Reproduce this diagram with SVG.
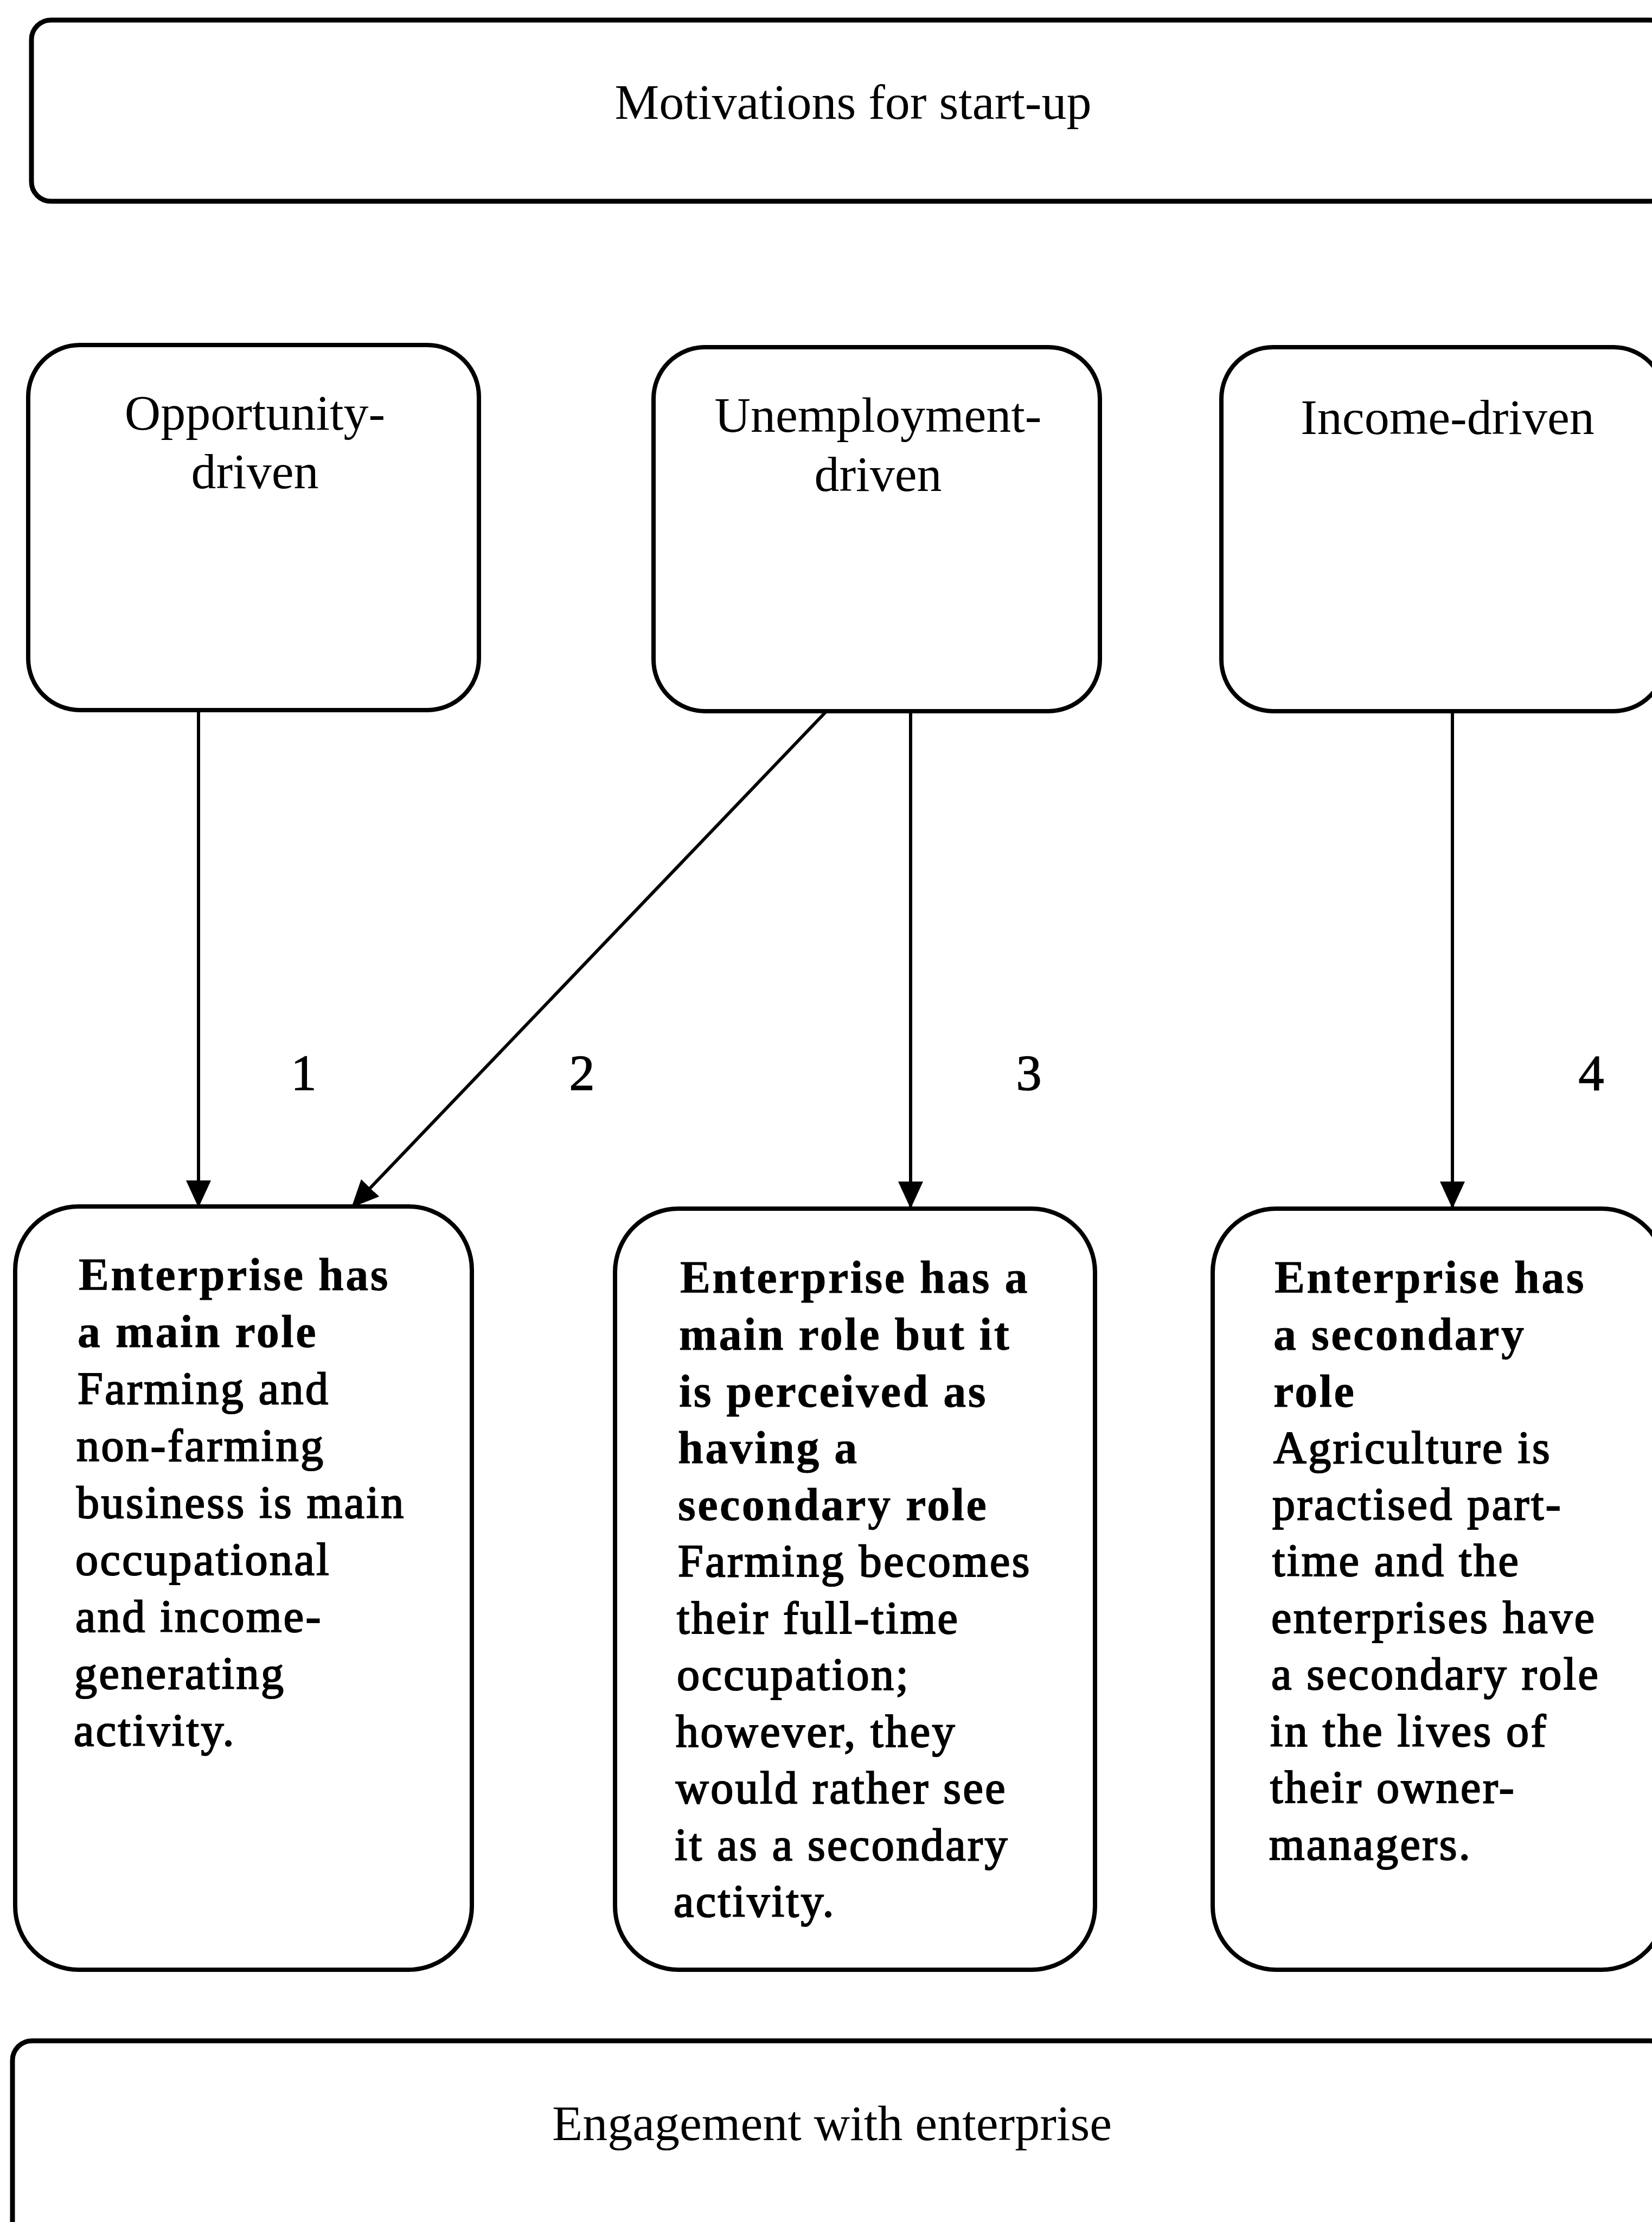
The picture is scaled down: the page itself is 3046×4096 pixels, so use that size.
<svg xmlns="http://www.w3.org/2000/svg" width="3046" height="4096" viewBox="0 0 3046 4096">
  <style>
    .box { fill: #ffffff; stroke: #000000; stroke-width: 8; }
    .label { font-family: "Liberation Serif", "Times New Roman", serif; font-size: 92px; fill: #000000; text-anchor: middle; }
    .num { font-family: "Liberation Serif", "Times New Roman", serif; font-size: 94px; fill: #000000; stroke: #000000; stroke-width: 1.5; text-anchor: middle; }
    .body { font-family: "Liberation Serif", "Times New Roman", serif; font-size: 84px; letter-spacing: 3.5px; fill: #000000; stroke: #000000; stroke-width: 2.2; }
    .head { font-weight: bold; stroke-width: 0.8; }
    .conn { stroke: #000000; stroke-width: 6; fill: none; marker-end: url(#arrow); }
  </style>
  <defs>
    <marker id="arrow" markerUnits="userSpaceOnUse" viewBox="0 0 50 46" refX="50" refY="23" markerWidth="50" markerHeight="46" orient="auto">
      <path d="M0,0 L50,23 L0,46 z" fill="#000000"/>
    </marker>
  </defs>
  <rect width="3046" height="4096" fill="#ffffff"/>

  <!-- header -->
  <g id="motivations">
    <rect class="box" x="58" y="37" width="3020" height="334" rx="36" ry="36" style="stroke-width:9"/>
    <text class="label" x="1573" y="219">Motivations for start-up</text>
  </g>

  <!-- start-up motivations -->
  <g id="opportunity">
    <rect class="box" x="52" y="636" width="831" height="673" rx="95" ry="95"/>
    <text class="label" x="470" y="792">Opportunity-</text>
    <text class="label" x="470" y="900">driven</text>
  </g>
  <g id="unemployment">
    <rect class="box" x="1205" y="640" width="823" height="671" rx="95" ry="95"/>
    <text class="label" x="1619" y="796">Unemployment-</text>
    <text class="label" x="1619" y="905">driven</text>
  </g>
  <g id="income">
    <rect class="box" x="2252" y="640" width="818" height="671" rx="95" ry="95"/>
    <text class="label" x="2669" y="800">Income-driven</text>
  </g>

  <!-- arrows and their numbers -->
  <g id="connectors">
    <line class="conn" x1="366" y1="1311" x2="366" y2="2226"/>
    <line class="conn" x1="1522" y1="1313" x2="648" y2="2226"/>
    <line class="conn" x1="1679" y1="1313" x2="1679" y2="2228"/>
    <line class="conn" x1="2678" y1="1313" x2="2678" y2="2228"/>
    <text class="num" x="560" y="2009">1</text>
    <text class="num" x="1073" y="2009">2</text>
    <text class="num" x="1897" y="2009">3</text>
    <text class="num" x="2934" y="2009">4</text>
  </g>

  <!-- roles of the enterprise -->
  <g id="main-role">
    <rect class="box" x="28" y="2224" width="842" height="1407" rx="117" ry="117"/>
    <text class="body" x="143" y="2378">
      <tspan class="head" x="145" dy="0">Enterprise has</tspan>
      <tspan class="head" x="143" dy="105">a main role</tspan>
      <tspan x="143" dy="105">Farming and</tspan>
      <tspan x="141" dy="105">non-farming</tspan>
      <tspan x="141" dy="105">business is main</tspan>
      <tspan x="139" dy="105">occupational</tspan>
      <tspan x="139" dy="105">and income-</tspan>
      <tspan x="137" dy="105">generating</tspan>
      <tspan x="136" dy="105">activity.</tspan>
    </text>
  </g>
  <g id="perceived-secondary">
    <rect class="box" x="1134" y="2228" width="885" height="1403" rx="117" ry="117"/>
    <text class="body" x="1254" y="2383">
      <tspan class="head" x="1254" dy="0">Enterprise has a</tspan>
      <tspan class="head" x="1252" dy="105">main role but it</tspan>
      <tspan class="head" x="1252" dy="105">is perceived as</tspan>
      <tspan class="head" x="1250" dy="104">having a</tspan>
      <tspan class="head" x="1250" dy="105">secondary role</tspan>
      <tspan x="1250" dy="104">Farming becomes</tspan>
      <tspan x="1248" dy="105">their full-time</tspan>
      <tspan x="1248" dy="104">occupation;</tspan>
      <tspan x="1246" dy="105">however, they</tspan>
      <tspan x="1246" dy="104">would rather see</tspan>
      <tspan x="1244" dy="105">it as a secondary</tspan>
      <tspan x="1242" dy="104">activity.</tspan>
    </text>
  </g>
  <g id="secondary-role">
    <rect class="box" x="2236" y="2228" width="834" height="1403" rx="117" ry="117"/>
    <text class="body" x="2348" y="2383">
      <tspan class="head" x="2350" dy="0">Enterprise has</tspan>
      <tspan class="head" x="2348" dy="105">a secondary</tspan>
      <tspan class="head" x="2348" dy="105">role</tspan>
      <tspan x="2348" dy="104">Agriculture is</tspan>
      <tspan x="2346" dy="104">practised part-</tspan>
      <tspan x="2346" dy="104">time and the</tspan>
      <tspan x="2344" dy="105">enterprises have</tspan>
      <tspan x="2344" dy="104">a secondary role</tspan>
      <tspan x="2342" dy="105">in the lives of</tspan>
      <tspan x="2342" dy="104">their owner-</tspan>
      <tspan x="2340" dy="105">managers.</tspan>
    </text>
  </g>

  <!-- footer -->
  <g id="engagement">
    <rect class="box" x="23" y="3762" width="3055" height="420" rx="36" ry="36" style="stroke-width:9"/>
    <text class="label" x="1534" y="3945">Engagement with enterprise</text>
  </g>
</svg>
